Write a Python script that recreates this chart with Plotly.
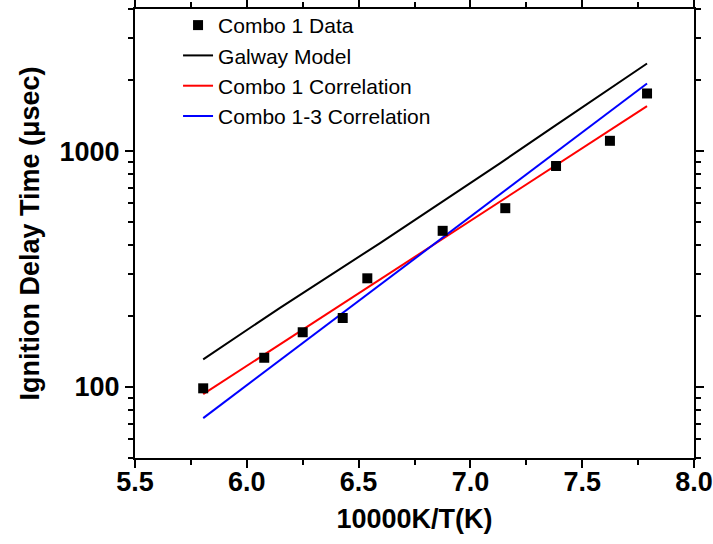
import numpy as np
import plotly.graph_objects as go

# Data
data_x = [5.805, 6.078, 6.25, 6.429, 6.539, 6.876, 7.156, 7.383, 7.624, 7.79]
data_y = [98.7, 133, 170.6, 196, 288.8, 459, 572.6, 864, 1105, 1754]

galway_x = [5.805, 6.1485, 6.596, 6.864, 7.132, 7.371, 7.79]
galway_y = [131, 216.5, 407.4, 601, 887, 1267, 2350]

corr1_x = [5.805, 7.79]
corr1_y = [93.2, 1549]

corr13_x = [5.805, 7.79]
corr13_y = [73.8, 1932]

x_ticks = [5.5, 6.0, 6.5, 7.0, 7.5, 8.0]
y_ticks = [100, 1000]
y_tick_text = ["100", "1000"]
y_minor = [m * d for d in (10, 100, 1000) for m in range(2, 10) if 50 <= m * d <= 4000]

FONT = "Arial, Liberation Sans, sans-serif"

fig = go.Figure()
fig.add_trace(go.Scatter(x=galway_x, y=galway_y, mode="lines", name="Galway Model",
                         line=dict(color="black", width=2), legendrank=2))
fig.add_trace(go.Scatter(x=corr1_x, y=corr1_y, mode="lines", name="Combo 1 Correlation",
                         line=dict(color="#ff0000", width=2), legendrank=3))
fig.add_trace(go.Scatter(x=corr13_x, y=corr13_y, mode="lines", name="Combo 1-3 Correlation",
                         line=dict(color="#0000ff", width=2), legendrank=4))
fig.add_trace(go.Scatter(x=data_x, y=data_y, mode="markers", name="Combo 1 Data",
                         marker=dict(symbol="square", size=10, color="black"), legendrank=1))

axis_common = dict(
    showline=True, linewidth=2, linecolor="black", mirror="allticks",
    ticks="outside", ticklen=8, tickwidth=2, tickcolor="black",
    showgrid=False, zeroline=False,
    tickfont=dict(family=FONT, size=27, color="black", weight="bold"),
)

fig.update_xaxes(
    range=[5.5, 8.0], tickvals=x_ticks, tickformat=".1f",
    ticklabelstandoff=-9,
    minor=dict(dtick=0.25, tick0=5.5, ticks="outside", ticklen=5, tickwidth=2, tickcolor="black"),
    title=dict(text="10000K/T(K)", font=dict(family=FONT, size=27, color="black", weight="bold"), standoff=13),
    **axis_common,
)
fig.update_yaxes(
    type="log", range=[np.log10(50), np.log10(4000)],
    tickvals=y_ticks, ticktext=y_tick_text,
    minor=dict(tickvals=y_minor, ticks="outside", ticklen=5, tickwidth=2, tickcolor="black"),
    title=dict(text="Ignition Delay Time (μsec)", font=dict(family=FONT, size=27, color="black", weight="bold"), standoff=12),
    **axis_common,
)

fig.update_layout(
    width=713, height=544,
    margin=dict(l=135, r=19, t=9, b=86, autoexpand=False),
    plot_bgcolor="white", paper_bgcolor="white",
    legend=dict(x=0.077, y=1.009, xanchor="left", yanchor="top",
                font=dict(family=FONT, size=21, color="black"),
                bgcolor="rgba(0,0,0,0)", tracegroupgap=0),
)

fig.write_html("out.html")
